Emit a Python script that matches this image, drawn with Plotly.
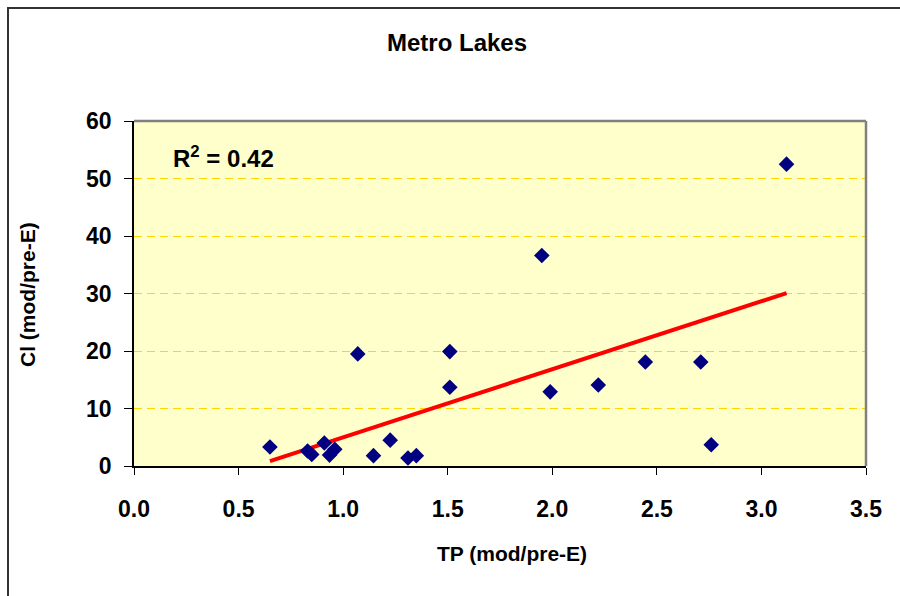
import numpy as np
import plotly.graph_objects as go

# Data
tp = [0.65, 0.83, 0.85, 0.91, 0.935, 0.96, 1.07, 1.145, 1.225, 1.31, 1.35,
      1.51, 1.51, 1.95, 1.99, 2.22, 2.445, 2.71, 2.76, 3.12]
cl = [3.3, 2.6, 2.0, 4.0, 1.9, 2.9, 19.5, 1.8, 4.5, 1.4, 1.8,
      19.9, 13.7, 36.6, 12.9, 14.1, 18.1, 18.1, 3.7, 52.5]

title_text = "Metro Lakes"
x_title = "TP (mod/pre-E)"
y_title = "Cl (mod/pre-E)"
r2_text = "R<sup>2</sup> = 0.42"

# Linear trend fitted to the data
slope, intercept = np.polyfit(tp, cl, 1)
trend_x = [min(tp), max(tp)]
trend_y = [slope * v + intercept for v in trend_x]

W, H = 900, 596
L, R, T, B = 134, 34, 121, 130
pw, ph = W - L - R, H - T - B

def px(x):
    return (x - L) / pw

def py(y):
    return (H - B - y) / ph

font = "Liberation Sans, Arial, sans-serif"

fig = go.Figure()
fig.add_trace(go.Scatter(x=trend_x, y=trend_y, mode="lines",
                         line=dict(color="#FF0000", width=4),
                         hoverinfo="skip", showlegend=False))
fig.add_trace(go.Scatter(x=tp, y=cl, mode="markers",
                         marker=dict(symbol="diamond", size=12, color="#000080",
                                     line=dict(width=0)),
                         showlegend=False))

fig.update_layout(
    width=W, height=H,
    margin=dict(l=L, r=R, t=T, b=B),
    paper_bgcolor="white",
    plot_bgcolor="#FFFFCC",
    font=dict(family=font, color="black"),
    showlegend=False,
    xaxis=dict(range=[0, 3.5], dtick=0.5, tick0=0, tickformat=".1f",
               showgrid=False, zeroline=False,
               showline=True, linecolor="black", linewidth=1.5,
               ticks="outside", ticklen=7, tickcolor="black", tickwidth=1,
               tickfont=dict(size=23, family=font, weight="bold"),
               ticklabelstandoff=15),
    yaxis=dict(range=[0, 60], dtick=10, tick0=0,
               showgrid=True, gridcolor="#FFD700", gridwidth=1, griddash="8px,5px",
               zeroline=False,
               showline=True, linecolor="black", linewidth=1.5,
               ticks="outside", ticklen=8, tickcolor="black", tickwidth=1,
               tickfont=dict(size=23, family=font, weight="bold"),
               ticklabelstandoff=8),
    shapes=[
        # plot area border (top/right in gray)
        dict(type="line", xref="paper", yref="paper", x0=0, x1=1, y0=1, y1=1,
             line=dict(color="#808080", width=2.5), layer="above"),
        dict(type="line", xref="paper", yref="paper", x0=1, x1=1, y0=0, y1=1,
             line=dict(color="#808080", width=2.5), layer="above"),
        # outer chart frame
        dict(type="rect", xref="paper", yref="paper",
             x0=px(8), x1=px(903), y0=py(8), y1=py(600),
             line=dict(color="#333333", width=2), fillcolor="rgba(0,0,0,0)",
             layer="above"),
    ],
    annotations=[
        dict(text="<b>%s</b>" % title_text, xref="paper", yref="paper",
             x=px(457), y=py(43), showarrow=False,
             font=dict(size=24, family=font), xanchor="center", yanchor="middle"),
        dict(text="<b>%s</b>" % x_title, xref="paper", yref="paper",
             x=px(512), y=py(553), showarrow=False,
             font=dict(size=21, family=font), xanchor="center", yanchor="middle"),
        dict(text="<b>%s</b>" % y_title, xref="paper", yref="paper",
             x=px(27), y=py(295), showarrow=False, textangle=-90,
             font=dict(size=21, family=font), xanchor="center", yanchor="middle"),
        dict(text="<b>%s</b>" % r2_text, xref="paper", yref="paper",
             x=px(171), y=py(157), showarrow=False,
             font=dict(size=24, family=font), xanchor="left", yanchor="middle"),
    ],
)

fig.write_html("out.html")
